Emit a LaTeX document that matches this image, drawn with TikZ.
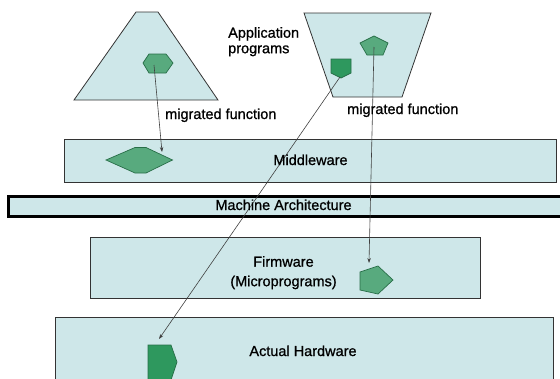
\documentclass[tikz,border=0pt]{standalone}
\usepackage{fontspec}
\setmainfont[FakeBold=0.9]{Liberation Sans}
\usetikzlibrary{arrows.meta}
\definecolor{boxfill}{RGB}{206,231,233}
\definecolor{glight}{RGB}{88,170,126}
\definecolor{gdark}{RGB}{46,152,94}
\definecolor{gedge}{RGB}{40,110,72}
\begin{document}
\begin{tikzpicture}[x=1pt,y=-1pt,
 layer/.style={draw=black!80, line width=0.8pt, fill=boxfill},
 boxnode/.style={layer, inner sep=0pt, anchor=north west},
 lbl/.style={inner sep=0pt, font=\fontsize{14.5}{19}\selectfont},
 gshape/.style={fill=glight, draw=gedge, line width=0.7pt},
 dshape/.style={fill=gdark, draw=gedge, line width=0.7pt},
 conn/.style={draw=black!75, line width=0.6pt, -{Stealth[length=5pt,width=3.5pt]}}]
\useasboundingbox (0,0) rectangle (560,378);
\clip (0,0) rectangle (560,378);
% trapezoids
\draw[layer] (136,12) -- (158,12) -- (218,100) -- (74,100) -- cycle;
\draw[layer] (304,13) -- (431,13) -- (402,97) -- (333,97) -- cycle;
% layers
\node[boxnode, minimum width=492pt, minimum height=43pt] (mid) at (64,139) {};
\node[boxnode, minimum width=554pt, minimum height=20pt, line width=2.5pt, draw=black] (mach) at (7,195) {};
\node[boxnode, minimum width=390pt, minimum height=61pt] (fw) at (90,237) {};
\node[boxnode, minimum width=498pt, minimum height=80pt] (hw) at (55,317) {};
% green shapes
\draw[gshape] (143,63) -- (149,54) -- (166,54) -- (173,63) -- (166,73) -- (149,73) -- cycle;
\draw[gshape] (106,160) -- (135,147.5) -- (146,147.5) -- (172.5,160) -- (146,173) -- (135,173) -- cycle;
\draw[gshape] (374,36) -- (388,43) -- (383,55) -- (367,55) -- (360,43) -- cycle;
\draw[dshape] (331,59) -- (351,59) -- (351,73) -- (341,78) -- (331,73) -- cycle;
\draw[gshape] (360,272) -- (378,266) -- (393,280) -- (378,294) -- (360,290) -- cycle;
\draw[dshape] (148,345) -- (171,345) -- (177,362) -- (171,380) -- (148,380) -- cycle;
% connector ends
\coordinate (hexA) at (154,65);
\coordinate (tipA) at (162,152);
\coordinate (sqB) at (340,77);
\coordinate (tipB) at (159,339);
\coordinate (penC) at (374,47);
\coordinate (tipC) at (369,263);
\draw[conn] (hexA) -- (tipA);
\draw[conn] (sqB) -- (tipB);
\draw[conn] (penC) -- (tipC);
% labels
\node[lbl, anchor=north west, align=left, font=\fontsize{14.5}{15.5}\selectfont] (app) at (228,27) {Application\\programs};
\node[lbl, anchor=base west] (mfl) at (165,119) {migrated function};
\node[lbl, anchor=base west] (mfr) at (347,114) {migrated function};
\node[lbl, anchor=base] (midl) at (310.5,165) {Middleware};
\node[lbl, anchor=base] (mal) at (283.5,210) {Machine Architecture};
\node[lbl, anchor=north, align=center, font=\fontsize{14.5}{19.5}\selectfont] (fwl) at (283.5,256) {Firmware\\(Microprograms)};
\node[lbl, anchor=base] (hwl) at (303,356) {Actual Hardware};
\end{tikzpicture}
\end{document}
